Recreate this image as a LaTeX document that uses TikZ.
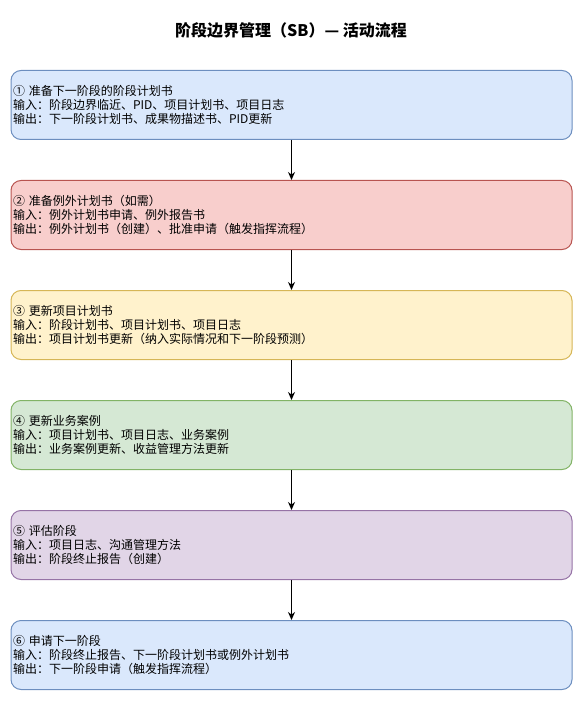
\documentclass[tikz,border=0pt]{standalone}
\usepackage{fontspec}
\setmainfont{Noto Sans CJK SC}
\usepackage{xcolor}
\usepackage{tikz}
\usetikzlibrary{positioning,arrows.meta}

\definecolor{blueFill}{HTML}{DAE8FC}
\definecolor{blueLine}{HTML}{6C8EBF}
\definecolor{redFill}{HTML}{F8CECC}
\definecolor{redLine}{HTML}{B85450}
\definecolor{yellowFill}{HTML}{FFF2CC}
\definecolor{yellowLine}{HTML}{D6B656}
\definecolor{greenFill}{HTML}{D5E8D4}
\definecolor{greenLine}{HTML}{82B366}
\definecolor{purpleFill}{HTML}{E1D5E7}
\definecolor{purpleLine}{HTML}{9673A6}

\tikzset{
    stepbox/.style={draw, rounded corners=10pt, line width=1pt,
        minimum width=561pt, minimum height=69pt, text width=557pt,
        inner xsep=2pt, align=left, font=\fontsize{12}{14}\selectfont},
    flow/.style={-{Stealth[length=8pt,width=7pt]}, line width=1pt}
}

\begin{document}
\begin{tikzpicture}[x=1pt, y=1pt]
    \useasboundingbox (0,0) rectangle (584,-703);

    % title
    \node[font=\fontsize{16}{18}\selectfont\bfseries] (title) at (291,-30) {阶段边界管理（SB）— 活动流程};

    % steps
    \node[stepbox, fill=blueFill, draw=blueLine] (prep) at (291.5,-105)
        {① 准备下一阶段的阶段计划书\\输入：阶段边界临近、PID、项目计划书、项目日志\\输出：下一阶段计划书、成果物描述书、PID更新};
    \node[stepbox, fill=redFill, draw=redLine] (excp) at (291.5,-215)
        {② 准备例外计划书（如需）\\输入：例外计划书申请、例外报告书\\输出：例外计划书（创建）、批准申请（触发指挥流程）};
    \node[stepbox, fill=yellowFill, draw=yellowLine] (plan) at (291.5,-325)
        {③ 更新项目计划书\\输入：阶段计划书、项目计划书、项目日志\\输出：项目计划书更新（纳入实际情况和下一阶段预测）};
    \node[stepbox, fill=greenFill, draw=greenLine] (case) at (291.5,-435)
        {④ 更新业务案例\\输入：项目计划书、项目日志、业务案例\\输出：业务案例更新、收益管理方法更新};
    \node[stepbox, fill=purpleFill, draw=purpleLine] (eval) at (291.5,-545)
        {⑤ 评估阶段\\输入：项目日志、沟通管理方法\\输出：阶段终止报告（创建）};
    \node[stepbox, fill=blueFill, draw=blueLine] (next) at (291.5,-655)
        {⑥ 申请下一阶段\\输入：阶段终止报告、下一阶段计划书或例外计划书\\输出：下一阶段申请（触发指挥流程）};

    % connectors
    \draw[flow] (prep) -- (excp);
    \draw[flow] (excp) -- (plan);
    \draw[flow] (plan) -- (case);
    \draw[flow] (case) -- (eval);
    \draw[flow] (eval) -- (next);
\end{tikzpicture}
\end{document}
